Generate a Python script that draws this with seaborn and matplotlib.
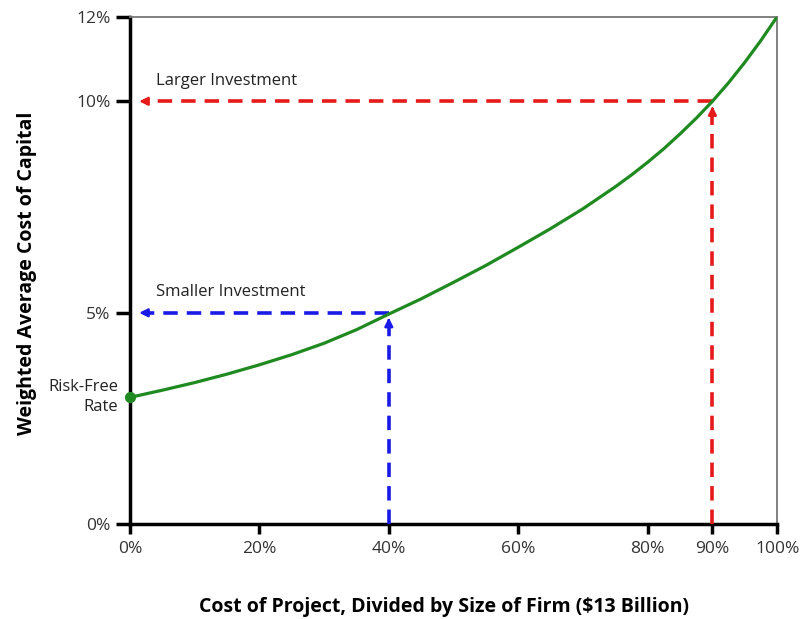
import matplotlib
matplotlib.use("Agg")
import matplotlib.pyplot as plt
import seaborn as sns
import pandas as pd
from matplotlib.ticker import FuncFormatter

# ---- data ----
project_share = [0, 5, 10, 15, 20, 25, 30, 35, 40, 45, 50, 55, 60, 65, 70, 75, 77.5, 80, 82.5, 85, 87.5, 90, 92.5, 95, 97.5, 100]
wacc = [3.0, 3.17, 3.35, 3.55, 3.77, 4.01, 4.28, 4.6, 4.97, 5.33, 5.72, 6.12, 6.55, 6.99, 7.46, 7.98, 8.26, 8.56, 8.88, 9.23, 9.6, 10.0, 10.44, 10.92, 11.44, 12.0]
risk_free = 3.0
highlight_x = [40, 90]
highlight_y = [5, 10]
highlight_colors = ["#1a1ae6", "#e61a1a"]
highlight_labels = ["Smaller Investment", "Larger Investment"]
x_ticks = [0, 20, 40, 60, 80, 90, 100]
y_ticks = [0, 5, 10, 12]

sns.set_theme(style="white")
plt.rcParams["font.family"] = ["Open Sans", "DejaVu Sans"]

fig = plt.figure(figsize=(8.02, 6.19), dpi=100)
ax = fig.add_axes([0.162, 0.153, 0.807, 0.820])

df = pd.DataFrame({"x": project_share, "y": wacc})
sns.lineplot(data=df, x="x", y="y", ax=ax, color="#1f8a1f", linewidth=2.3, zorder=4,
             solid_joinstyle="round", solid_capstyle="round")
ax.plot([project_share[0]], [risk_free], "o", color="#1f8a1f", markersize=7, zorder=5, clip_on=False)

for hx, hy, c, lab in zip(highlight_x, highlight_y, highlight_colors, highlight_labels):
    dash = dict(color=c, linewidth=2.6, linestyle=(0, (4, 2.5)), zorder=3)
    ax.plot([hx, hx], [0, hy - 0.22], **dash)
    ax.annotate("", xy=(hx, hy - 0.05), xytext=(hx, hy - 0.3),
                arrowprops=dict(arrowstyle="-|>,head_length=0.4,head_width=0.2", color=c, lw=1.8), zorder=3)
    ax.plot([hx, 2.0], [hy, hy], **dash)
    ax.annotate("", xy=(1.0, hy), xytext=(2.8, hy),
                arrowprops=dict(arrowstyle="-|>,head_length=0.4,head_width=0.2", color=c, lw=1.8), zorder=3)
    ax.text(4, hy + 0.3, lab, fontsize=12, color="#222222", ha="left", va="bottom")

ax.text(-1.8, risk_free, "Risk-Free\nRate", fontsize=12, color="#222222", ha="right", va="center",
        linespacing=1.35)

ax.set_xlim(0, 100)
ax.set_ylim(0, 12)
ax.set_xticks(x_ticks)
ax.set_yticks(y_ticks)
ax.xaxis.set_major_formatter(FuncFormatter(lambda v, p: f"{v:.0f}%"))
ax.yaxis.set_major_formatter(FuncFormatter(lambda v, p: f"{v:.0f}%"))
ax.tick_params(axis="x", direction="out", length=7, width=2.5, color="black",
               labelsize=12.5, labelcolor="#333333", pad=5, bottom=True)
ax.tick_params(axis="y", direction="out", length=10, width=2.5, color="black",
               labelsize=12.5, labelcolor="#333333", pad=4, left=True)

for s in ["left", "bottom"]:
    ax.spines[s].set_color("black")
    ax.spines[s].set_linewidth(2.5)
for s in ["top", "right"]:
    ax.spines[s].set_color("#777777")
    ax.spines[s].set_linewidth(1.3)
    ax.spines[s].set_visible(True)

ax.set_xlabel("Cost of Project, Divided by Size of Firm ($13 Billion)", fontsize=14,
              fontweight="bold", color="black", va="center")
ax.set_ylabel("Weighted Average Cost of Capital", fontsize=14, fontweight="bold",
              color="black", va="center")
ax.xaxis.set_label_coords(0.485, -0.162)
ax.yaxis.set_label_coords(-0.159, 0.495)
ax.grid(False)

fig.savefig("out.png", dpi=100)
